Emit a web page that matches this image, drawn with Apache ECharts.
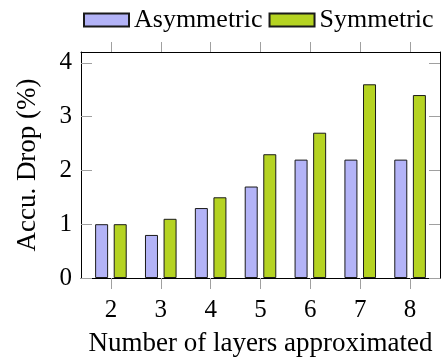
<!DOCTYPE html>
<html>
<head>
<meta charset="utf-8">
<script src="https://cdn.jsdelivr.net/npm/echarts@6/dist/echarts.min.js"></script>
<style>
  html, body { margin: 0; padding: 0; background: #fff; }
  #chart { width: 444px; height: 360px; }
</style>
</head>
<body>
<div id="chart"></div>
<script>
// Number of layers approximated (x positions) and accuracy drop per scheme
const layers = [2, 3, 4, 5, 6, 7, 8];
const asymmetric = [1.0, 0.8, 1.3, 1.7, 2.2, 2.2, 2.2];
const symmetric = [1.0, 1.1, 1.5, 2.3, 2.7, 3.6, 3.4];
const yTicks = [0, 1, 2, 3, 4];

const FONT = '"Liberation Serif", "DejaVu Serif", serif';
const TICK_COLOR = '#a0a0a0';

const chart = echarts.init(document.getElementById('chart'), null, { renderer: 'canvas' });

const pairs = (vals) => layers.map((x, i) => [x, vals[i]]);

const xBase = {
  type: 'value',
  min: 1.4,
  max: 8.6,
  splitLine: { show: false },
  axisLine: { show: true, onZero: false, lineStyle: { color: '#000', width: 1 } }
};
const yBase = {
  type: 'value',
  min: 0,
  max: 4.2,
  splitLine: { show: false },
  axisLine: { show: true, lineStyle: { color: '#000', width: 1 } }
};

chart.setOption({
  animation: false,
  textStyle: { fontFamily: FONT, color: '#000' },
  legend: {
    left: 78,
    top: 2,
    width: 366,
    itemWidth: 45,
    itemHeight: 13,
    itemGap: 6,
    icon: 'rect',
    textStyle: { fontFamily: FONT, fontSize: 26, color: '#000' },
    data: ['Asymmetric', 'Symmetric']
  },
  grid: { left: 81, right: 4, top: 52, bottom: 82, containLabel: false, outerBoundsMode: 'none' },
  xAxis: [
    Object.assign({}, xBase, {
      position: 'bottom',
      name: 'Number of layers approximated',
      nameLocation: 'middle',
      nameGap: 52,
      nameTextStyle: { fontFamily: FONT, fontSize: 27, color: '#000' },
      axisTick: { show: true, inside: false, length: 11, customValues: layers,
                  lineStyle: { color: TICK_COLOR, width: 1 } },
      axisLabel: { show: true, customValues: layers, margin: 20,
                   fontFamily: FONT, fontSize: 25, color: '#000' }
    }),
    Object.assign({}, xBase, {
      position: 'top',
      axisTick: { show: true, inside: false, length: 10, customValues: layers,
                  lineStyle: { color: TICK_COLOR, width: 1 } },
      axisLabel: { show: false, customValues: layers }
    })
  ],
  yAxis: [
    Object.assign({}, yBase, {
      position: 'left',
      name: 'Accu. Drop (%)',
      nameLocation: 'middle',
      nameGap: 40,
      nameTextStyle: { fontFamily: FONT, fontSize: 27, color: '#000' },
      axisTick: { show: true, inside: true, length: 11, customValues: yTicks,
                  lineStyle: { color: TICK_COLOR, width: 1 } },
      axisLabel: { show: true, customValues: yTicks, margin: 9,
                   fontFamily: FONT, fontSize: 25, color: '#000' }
    }),
    Object.assign({}, yBase, {
      position: 'right',
      axisTick: { show: true, inside: true, length: 11, customValues: yTicks,
                  lineStyle: { color: TICK_COLOR, width: 1 } },
      axisLabel: { show: false, customValues: yTicks }
    })
  ],
  series: [
    {
      name: 'Asymmetric',
      type: 'bar',
      xAxisIndex: 0,
      yAxisIndex: 0,
      barWidth: 13,
      barGap: '43%',
      data: pairs(asymmetric),
      itemStyle: { color: '#b3b3f7', borderColor: '#1a1a1a', borderWidth: 1 }
    },
    {
      name: 'Symmetric',
      type: 'bar',
      xAxisIndex: 0,
      yAxisIndex: 0,
      barWidth: 13,
      barGap: '43%',
      data: pairs(symmetric),
      itemStyle: { color: '#b5d322', borderColor: '#1a1a1a', borderWidth: 1 }
    }
  ]
});
</script>
</body>
</html>
